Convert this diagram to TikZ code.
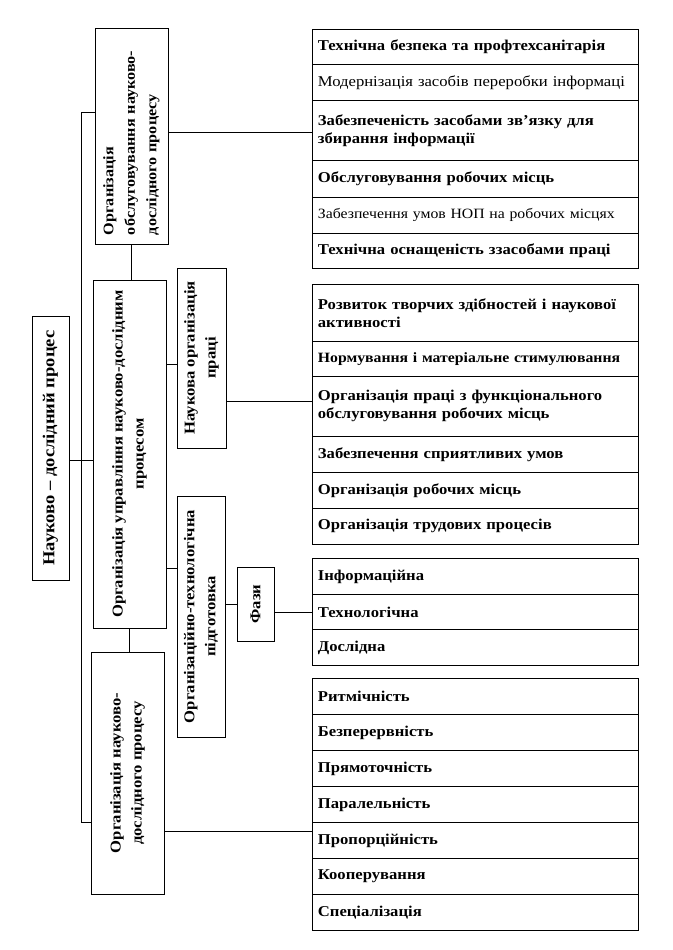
\documentclass[tikz,border=0pt]{standalone}
\usepackage{fontspec}
\setmainfont[FakeStretch=1.11]{Liberation Serif}
\begin{document}
\begin{tikzpicture}[x=1pt,y=-1pt,
  box/.style={draw, line width=0.9pt, inner sep=0pt},
  vbox/.style={box, rotate=90, align=center, font=\fontsize{15}{21}\selectfont\bfseries},
  rowbox/.style={draw, line width=0.8pt, anchor=north west, minimum width=326pt, text width=315pt, inner xsep=5.5pt, inner ysep=0pt, align=left, font=\fontsize{15}{18}\selectfont\bfseries},
  rowreg/.style={rowbox, font=\fontsize{15}{18}\selectfont},
  conn/.style={line width=0.8pt}]
\useasboundingbox (0,0) rectangle (672,950);

% left column
\node[vbox, minimum width=264pt, minimum height=37pt, font=\fontsize{16.7}{20}\selectfont\bfseries] (root) at (50.5,448) {Науково – дослідний процес};
\node[vbox, minimum width=216pt, minimum height=73pt, text width=198pt, align=left, font=\fontsize{14.6}{21.5}\selectfont\bfseries] (A) at (131.5,136) {Організація\\обслуговування науково-\\дослідного процесу};
\node[vbox, minimum width=348pt, minimum height=73pt] (B) at (129.5,454) {Організація управління науково-дослідним\\процесом};
\node[vbox, minimum width=242pt, minimum height=73pt] (D) at (127.5,773) {Організація науково-\\дослідного процесу};

% middle column
\node[vbox, minimum width=180pt, minimum height=49pt] (C1) at (201.5,358) {Наукова організація\\праці};
\node[vbox, minimum width=241pt, minimum height=48pt] (C2) at (201,616.5) {Організаційно-технологічна\\підготовка};
\node[vbox, minimum width=74pt, minimum height=37pt] (F) at (255.5,604) {Фази};

% list 1
\node[rowbox, minimum height=35pt] (r11) at (312,29) {Технічна безпека та профтехсанітарія};
\node[rowreg, minimum height=36pt] (r12) at (312,64) {Модернізація засобів переробки інформаці};
\node[rowbox, minimum height=60pt] (r13) at (312,100) {Забезпеченість засобами зв’язку для\\збирання інформації};
\node[rowbox, minimum height=37pt] (r14) at (312,160) {Обслуговування робочих місць};
\node[rowreg, minimum height=36pt, font=\fontsize{14.2}{18}\selectfont] (r15) at (312,197) {Забезпечення умов НОП на робочих місцях};
\node[rowbox, minimum height=35pt] (r16) at (312,233) {Технічна оснащеність ззасобами праці};

% list 2
\node[rowbox, minimum height=57pt] (r21) at (312,284) {Розвиток творчих здібностей і наукової\\активності};
\node[rowbox, minimum height=35pt, font=\fontsize{14.2}{18}\selectfont\bfseries] (r22) at (312,341) {Нормування і матеріальне стимулювання};
\node[rowbox, minimum height=60pt] (r23) at (312,376) {Організація праці з функціонального\\обслуговування робочих місць};
\node[rowbox, minimum height=36pt] (r24) at (312,436) {Забезпечення сприятливих умов};
\node[rowbox, minimum height=36pt] (r25) at (312,472) {Організація робочих місць};
\node[rowbox, minimum height=36pt] (r26) at (312,508) {Організація трудових процесів};

% list 3
\node[rowbox, minimum height=36pt] (r31) at (312,558) {Інформаційна};
\node[rowbox, minimum height=35pt] (r32) at (312,594) {Технологічна};
\node[rowbox, minimum height=36pt] (r33) at (312,629) {Дослідна};

% list 4
\node[rowbox, minimum height=36pt] (r41) at (312,678) {Ритмічність};
\node[rowbox, minimum height=36pt] (r42) at (312,714) {Безперервність};
\node[rowbox, minimum height=36pt] (r43) at (312,750) {Прямоточність};
\node[rowbox, minimum height=36pt] (r44) at (312,786) {Паралельність};
\node[rowbox, minimum height=36pt] (r45) at (312,822) {Пропорційність};
\node[rowbox, minimum height=36pt] (r46) at (312,858) {Кооперування};
\node[rowbox, minimum height=36pt] (r47) at (312,894) {Спеціалізація};

% helper levels
\coordinate (sT) at (81,112);
\coordinate (sB) at (81,822);
\coordinate (yRoot) at (0,460);
\coordinate (yA) at (0,132);
\coordinate (yC1) at (0,364);
\coordinate (yC2) at (0,568);
\coordinate (yF) at (0,604);
\coordinate (yL2) at (0,401);
\coordinate (yL4) at (0,831);

% connectors
\draw[conn] (A.north |- sT) -- (sT) -- (sB) -- (D.north |- sB);
\draw[conn] (root.south |- yRoot) -- (B.north |- yRoot);
\draw[conn] (A.west) -- (A.west |- B.east);
\draw[conn] (B.west) -- (B.west |- D.east);
\draw[conn] (A.south |- yA) -- (r13.west |- yA);
\draw[conn] (B.south |- yC1) -- (C1.north |- yC1);
\draw[conn] (B.south |- yC2) -- (C2.north |- yC2);
\draw[conn] (C2.south |- yF) -- (F.north |- yF);
\draw[conn] (C1.south |- yL2) -- (r23.west |- yL2);
\draw[conn] (F.south |- r32.west) -- (r32.west);
\draw[conn] (D.south |- yL4) -- (r45.west |- yL4);
\end{tikzpicture}
\end{document}
